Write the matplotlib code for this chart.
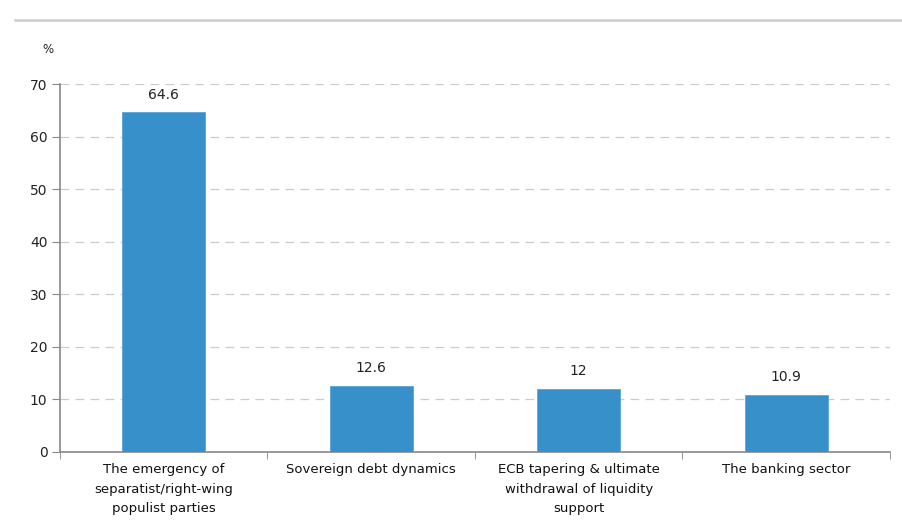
import matplotlib.pyplot as plt
from matplotlib.lines import Line2D
import numpy as np

categories = ['The emergency of\nseparatist/right-wing\npopulist parties',
              'Sovereign debt dynamics',
              'ECB tapering & ultimate\nwithdrawal of liquidity\nsupport',
              'The banking sector']
values = [64.6, 12.6, 12, 10.9]
value_labels = ['64.6', '12.6', '12', '10.9']

plt.rcParams['font.family'] = ['DejaVu Sans']

fig = plt.figure(figsize=(9.02, 5.29), dpi=100)
ax = fig.add_axes([0.0665, 0.1456, 0.9200, 0.6956])

x = np.arange(len(categories))
bars = ax.bar(x, values, width=0.4, color='#3790c9', edgecolor='#5aa5d6', linewidth=0.6, zorder=3)

# value labels above each bar
for xi, v, lab in zip(x, values, value_labels):
    ax.text(xi, v + 2.0, lab, ha='center', va='bottom', fontsize=10, color='#222222')

ax.set_xlim(-0.5, 3.5)
ax.set_ylim(0, 70)
ax.set_yticks(range(0, 80, 10))
ax.tick_params(axis='y', length=6, color='#888888', labelsize=10, labelcolor='#222222', pad=3)

ax.set_xticks(x)
ax.set_xticklabels(categories, fontsize=9.5, color='#111111', linespacing=1.65)
ax.set_xticks(np.arange(-0.5, 4.0, 1.0), minor=True)
ax.tick_params(axis='x', which='major', length=0, pad=8)
ax.tick_params(axis='x', which='minor', length=5, color='#888888', direction='out')

ax.yaxis.grid(True, linestyle=(0, (7, 5)), color='#cccccc', linewidth=0.9, zorder=0)
ax.set_axisbelow(True)
for side in ['top', 'right']:
    ax.spines[side].set_visible(False)
ax.spines['left'].set_color('#888888')
ax.spines['bottom'].set_color('#888888')
ax.spines['left'].set_linewidth(1.2)
ax.spines['bottom'].set_linewidth(1.2)

fig.text(0.047, 0.907, '%', fontsize=8.5, color='#222222', ha='left', va='center')

# separator rule under the heading
fig.add_artist(Line2D([0.017, 1.0], [0.962, 0.962], color='#cccccc', linewidth=1.8))

fig.savefig('out.png', dpi=100)
